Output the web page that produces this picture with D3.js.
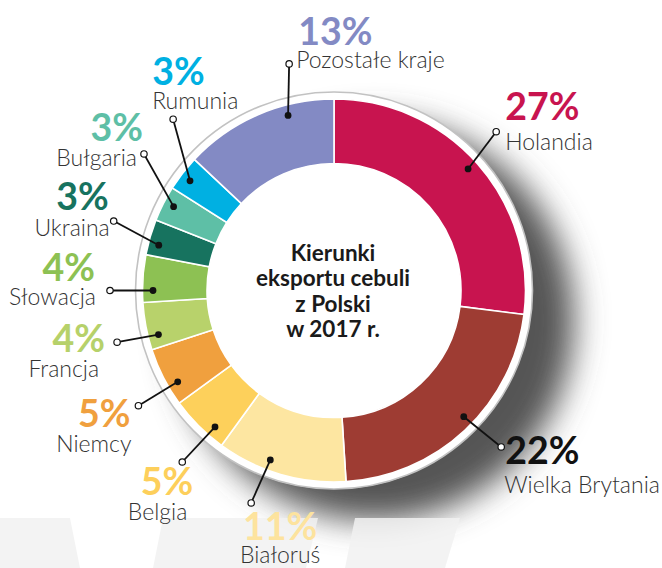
<!DOCTYPE html>
<html>
<head>
<meta charset="utf-8">
<script src="https://cdn.jsdelivr.net/npm/d3@7"></script>
<style>
  html, body { margin: 0; padding: 0; background: #fff; }
  svg { display: block; font-family: Lato, "Open Sans", sans-serif; }
</style>
</head>
<body>
<svg id="chart" width="662" height="568"></svg>
<script>
// --- Data ---------------------------------------
const countries = ["Holandia", "Wielka Brytania", "Białoruś", "Belgia", "Niemcy",
  "Francja", "Słowacja", "Ukraina", "Bułgaria", "Rumunia", "Pozostałe kraje"];
const shares = [27, 22, 11, 5, 5, 4, 4, 3, 3, 3, 13];
const sliceColors = ["#c8144f", "#9e3c33", "#fde6a1", "#fdd05b", "#f0a03e",
  "#b8d26b", "#8dc153", "#17735f", "#5ebfa6", "#00b0e2", "#838ac4"];
const pctColors = ["#c8144f", "#111111", "#fde39e", "#fdcf5b", "#f0a03e",
  "#b6d16a", "#8dc153", "#17735f", "#5ebfa6", "#00b0e2", "#838ac4"];
const titleLines = ["Kierunki", "eksportu cebuli", "z Polski", "w 2017 r."];

// --- Label layout (angles in degrees, offsets in px from the open dot) ---
// dot: nudge of the filled dot, end: nudge of the open dot, r: radius of the open dot
const labelLayout = [
  {dot: -0.8, end: -3.0, r: 227, pct: [9, -12, "start"], name: [9, 18, "start"]},
  {dot: -2.6, end: -3.7, r: 229, pct: [4, 17, "start"], name: [3, 46, "start"]},
  {dot: 4.4, end: 5.1, r: 228, pct: [29, 37, "middle"], name: [29, 60, "middle"]},
  {dot: -3.9, end: -3.5, r: 229, pct: [11, 33, "end"], name: [5, 58, "end"]},
  {dot: -3.3, end: -3.5, r: 227, pct: [-8, 21, "end"], name: [-7, 46, "end"]},
  {dot: -3.3, end: -2.6, r: 223, pct: [-12, 10, "end"], name: [-18, 35, "end"]},
  {dot: -3.6, end: -3.6, r: 224, pct: [-15, -10, "end"], name: [-14, 14, "end"]},
  {dot: -1.7, end: 1.3, r: 231, pct: [-5, -11, "end"], name: [-4, 15, "end"]},
  {dot: 0.6, end: 8.7, r: 234, pct: [-1, -13, "end"], name: [-7, 12, "end"]},
  {dot: -0.5, end: 9.0, r: 235, pct: [-21, -34, "start"], name: [-21, -10, "start"]},
  {dot: 8.7, end: 12.2, r: 231, pct: [9, -19, "start"], name: [7, 4, "start"]}
];

const width = 662, height = 568;
const cx = 334, cy = 290.5;
const rInner = 127, rOuter = 191.5, rRing = 198.5, rDot = 181;

const svg = d3.select("#chart");
const defs = svg.append("defs");

defs.append("filter")
  .attr("id", "shadow-blur")
  .attr("x", "-50%").attr("y", "-50%")
  .attr("width", "200%").attr("height", "200%")
  .append("feGaussianBlur")
  .attr("stdDeviation", 16);

// --- Shadow behind the donut ----------------------
svg.append("circle")
  .attr("cx", cx + 40)
  .attr("cy", cy + 30)
  .attr("r", 200)
  .attr("fill", "#555")
  .attr("filter", "url(#shadow-blur)");

// --- Faint background shapes ----------------------
const bgShapes = [
  [[0, 518], [70, 518], [80, 568], [0, 568]],
  [[163, 518], [318, 518], [306, 568], [153, 568]],
  [[355, 518], [460, 518], [445, 568], [345, 568]]
];
svg.append("g")
  .selectAll("path")
  .data(bgShapes)
  .join("path")
  .attr("d", d => "M" + d.join("L") + "Z")
  .attr("fill", "#f1f1f1")
  .attr("opacity", 0.85);

// white disc + thin grey ring
svg.append("circle")
  .attr("cx", cx).attr("cy", cy)
  .attr("r", rRing)
  .attr("fill", "#fff")
  .attr("stroke", "#c2c2c2")
  .attr("stroke-width", 1.6);

// --- Donut ----------------------------------------
const data = countries.map((c, i) => ({name: c, value: shares[i], i: i}));

const pie = d3.pie()
  .sort(null)
  .value(d => d.value)
  .startAngle(0)
  .endAngle(2 * Math.PI);

const arcs = pie(data);

const arc = d3.arc()
  .innerRadius(rInner)
  .outerRadius(rOuter);

const g = svg.append("g")
  .attr("transform", "translate(" + cx + "," + cy + ")");

g.selectAll("path.slice")
  .data(arcs)
  .join("path")
  .attr("class", "slice")
  .attr("d", arc)
  .attr("fill", d => sliceColors[d.data.i])
  .attr("stroke", "#fff")
  .attr("stroke-width", 1.6);

// polar helper: angle in radians, clockwise from top
function polar(a, r) {
  return [r * Math.sin(a), -r * Math.cos(a)];
}
const deg = Math.PI / 180;

// --- Leaders and labels ---------------------------
const labels = g.selectAll("g.label")
  .data(arcs)
  .join("g")
  .attr("class", "label")
  .each(function(d) {
    const lay = labelLayout[d.data.i];
    const mid = (d.startAngle + d.endAngle) / 2;
    const p0 = polar(mid + lay.dot * deg, rDot);
    const p1 = polar(mid + lay.end * deg, lay.r);
    const sel = d3.select(this);

    sel.append("line")
      .attr("x1", p0[0]).attr("y1", p0[1])
      .attr("x2", p1[0]).attr("y2", p1[1])
      .attr("stroke", "#111")
      .attr("stroke-width", 1.8);

    sel.append("circle")
      .attr("cx", p0[0]).attr("cy", p0[1])
      .attr("r", 3.4)
      .attr("fill", "#111");

    sel.append("circle")
      .attr("cx", p1[0]).attr("cy", p1[1])
      .attr("r", 3.2)
      .attr("fill", "#fff")
      .attr("stroke", "#111")
      .attr("stroke-width", 1.2);

    sel.append("text")
      .attr("x", p1[0] + lay.pct[0])
      .attr("y", p1[1] + lay.pct[1])
      .attr("text-anchor", lay.pct[2])
      .attr("font-size", 37.5)
      .attr("font-weight", 700)
      .attr("fill", pctColors[d.data.i])
      .text(d.data.value + "%");

    sel.append("text")
      .attr("x", p1[0] + lay.name[0])
      .attr("y", p1[1] + lay.name[1])
      .attr("text-anchor", lay.name[2])
      .attr("font-size", 23)
      .attr("font-weight", 300)
      .attr("fill", "#333")
      .text(d.data.name);
  });

// --- Title in the centre --------------------------
g.append("text")
  .attr("text-anchor", "middle")
  .attr("font-size", 22.5)
  .attr("font-weight", 700)
  .attr("fill", "#1a1a1a")
  .selectAll("tspan")
  .data(titleLines)
  .join("tspan")
  .attr("x", -1)
  .attr("y", (d, i) => -30 + i * 25.5)
  .text(d => d);
</script>
</body>
</html>
